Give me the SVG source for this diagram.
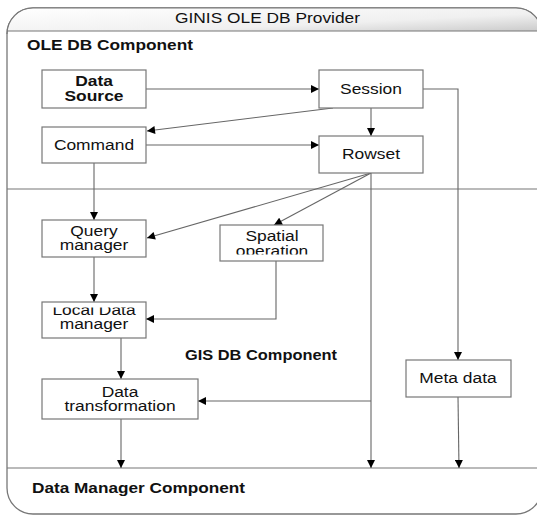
<svg xmlns="http://www.w3.org/2000/svg" width="537" height="515" viewBox="0 0 537 515">
<defs>
<linearGradient id="hg" x1="0" y1="0" x2="1" y2="1">
<stop offset="0" stop-color="#ffffff"/>
<stop offset="0.6" stop-color="#f0f0f0"/>
<stop offset="1" stop-color="#c4c4c4"/>
</linearGradient>
<marker id="ah" viewBox="0 0 10 10" refX="10" refY="5" markerWidth="9" markerHeight="8" markerUnits="userSpaceOnUse" orient="auto">
<path d="M0,0 L10,5 L0,10 z" fill="#000"/>
</marker>
<clipPath id="cSp"><rect x="220" y="225" width="103" height="29.5"/></clipPath>
<clipPath id="cLd"><rect x="42" y="307.5" width="104" height="30.5"/></clipPath>
</defs>
<style>
.box{fill:#fff;stroke:#777;stroke-width:1.2}
.frame{fill:#fff;stroke:#777;stroke-width:1.3}
.sep{stroke:#777;stroke-width:1.2;fill:none}
.t{font-family:"Liberation Sans",Arial,sans-serif;font-size:14.5px;fill:#111;text-anchor:middle}
.b{font-weight:bold}
.h{font-family:"Liberation Sans",Arial,sans-serif;font-size:15px;font-weight:bold;fill:#111}
.c line,.c path{stroke:#666;stroke-width:1.1;fill:none}
</style>
<g id="frame">
<rect class="frame" x="7" y="8" width="535" height="506" rx="26" ry="26"/>
<path d="M7,31 L7,34 A26,26 0 0 1 33,8 L516,8 A26,26 0 0 1 542,34 L542,31 Z" fill="url(#hg)" stroke="none"/>
<path d="M7,34 A26,26 0 0 1 33,8 L516,8 A26,26 0 0 1 542,34" class="sep"/>
<line class="sep" x1="7" y1="31" x2="537" y2="31"/>
<text class="t" x="175" y="23" style="text-anchor:start" textLength="185" lengthAdjust="spacingAndGlyphs">GINIS OLE DB Provider</text>
<line class="sep" x1="7" y1="189" x2="537" y2="189"/>
<line class="sep" x1="7" y1="468" x2="537" y2="468"/>
<text class="h" x="27" y="50" textLength="166" lengthAdjust="spacingAndGlyphs">OLE DB Component</text>
<text class="h" x="185" y="360" textLength="152" lengthAdjust="spacingAndGlyphs">GIS DB Component</text>
<text class="h" x="32" y="493" textLength="213" lengthAdjust="spacingAndGlyphs">Data Manager Component</text>
</g>
<g class="c" id="connectors">
<line x1="146" y1="89" x2="319" y2="89" marker-end="url(#ah)"/>
<line x1="333" y1="108" x2="147" y2="131" marker-end="url(#ah)"/>
<line x1="371" y1="108" x2="371" y2="136" marker-end="url(#ah)"/>
<path d="M423,89 L458,89 L458,360" marker-end="url(#ah)"/>
<line x1="146" y1="145" x2="319" y2="145" marker-end="url(#ah)"/>
<line x1="94" y1="163" x2="94" y2="220" marker-end="url(#ah)"/>
<line x1="371" y1="173" x2="147" y2="238" marker-end="url(#ah)"/>
<line x1="371" y1="173" x2="274" y2="225" marker-end="url(#ah)"/>
<line x1="371" y1="173" x2="371" y2="468" marker-end="url(#ah)"/>
<path d="M371,401 L198,401" marker-end="url(#ah)"/>
<line x1="94" y1="257" x2="94" y2="302" marker-end="url(#ah)"/>
<path d="M276,261 L276,319 L146,319" marker-end="url(#ah)"/>
<line x1="121" y1="338" x2="121" y2="379" marker-end="url(#ah)"/>
<line x1="121" y1="419" x2="121" y2="468" marker-end="url(#ah)"/>
<line x1="458" y1="397" x2="459" y2="468" marker-end="url(#ah)"/>
</g>
<g id="data-source">
<rect class="box" x="42" y="70" width="104" height="38"/>
<text class="t b" transform="translate(94,86) scale(1.2,1)">Data</text>
<text class="t b" transform="translate(94,101) scale(1.2,1)">Source</text>
</g>
<g id="session">
<rect class="box" x="319" y="70" width="104" height="38"/>
<text class="t" transform="translate(371,94) scale(1.2,1)">Session</text>
</g>
<g id="command">
<rect class="box" x="42" y="127" width="104" height="36"/>
<text class="t" transform="translate(94,150) scale(1.2,1)">Command</text>
</g>
<g id="rowset">
<rect class="box" x="319" y="136" width="104" height="37"/>
<text class="t" transform="translate(371,159) scale(1.2,1)">Rowset</text>
</g>
<g id="query-manager">
<rect class="box" x="42" y="220" width="104" height="37"/>
<text class="t" transform="translate(94,235.5) scale(1.2,1)">Query</text>
<text class="t" transform="translate(94,250) scale(1.2,1)">manager</text>
</g>
<g id="spatial-operation">
<rect class="box" x="220" y="225" width="103" height="36"/>
<g clip-path="url(#cSp)">
<text class="t" transform="translate(272,241) scale(1.2,1)">Spatial</text>
<text class="t" transform="translate(272,256) scale(1.2,1)">operation</text>
</g>
</g>
<g id="local-data-manager">
<rect class="box" x="42" y="302" width="104" height="36"/>
<g clip-path="url(#cLd)">
<text class="t" transform="translate(94,314.5) scale(1.2,1)">Local Data</text>
<text class="t" transform="translate(94,329) scale(1.2,1)">manager</text>
</g>
</g>
<g id="meta-data">
<rect class="box" x="406" y="360" width="105" height="37"/>
<text class="t" transform="translate(458,383) scale(1.2,1)">Meta data</text>
</g>
<g id="data-transformation">
<rect class="box" x="42" y="379" width="156" height="40"/>
<text class="t" transform="translate(120,397) scale(1.2,1)">Data</text>
<text class="t" transform="translate(120,411) scale(1.2,1)">transformation</text>
</g>
</svg>
